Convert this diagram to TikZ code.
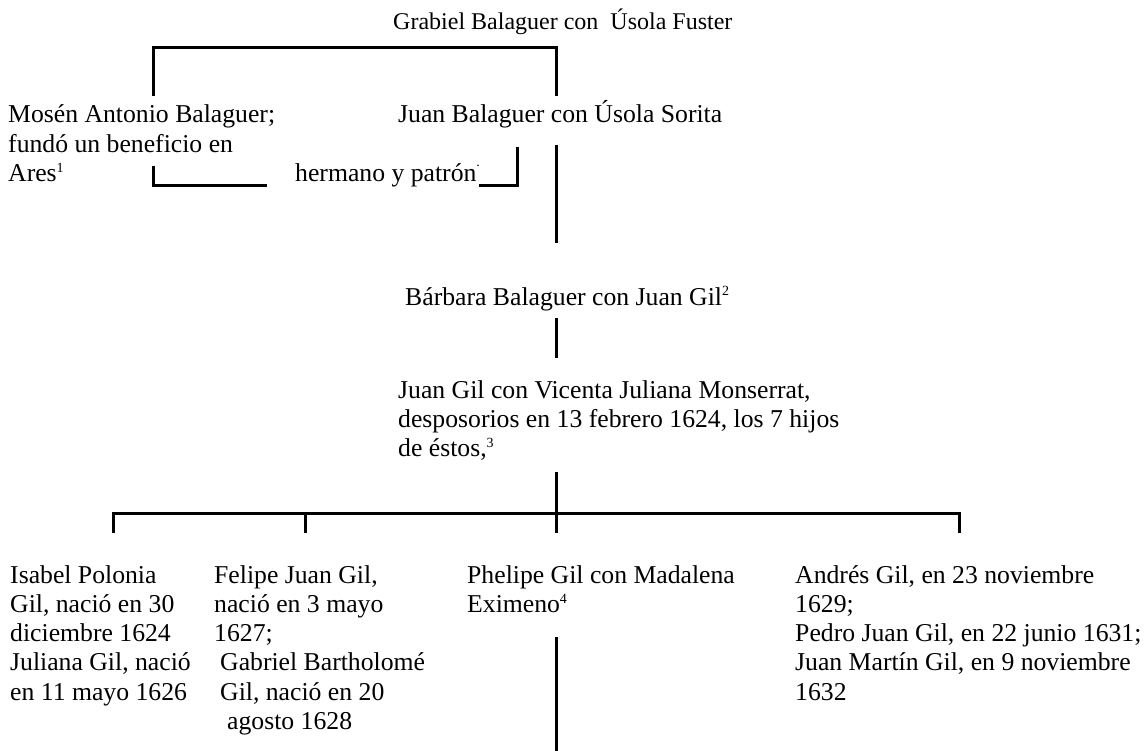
\documentclass[tikz,border=0pt]{standalone}
\usepackage{fontspec}
\setmainfont{Liberation Serif}
% raised footnote number
\newcommand\fnmark[1]{\raisebox{0.36em}{\fontsize{14}{14}\selectfont #1}}
\begin{document}
\begin{tikzpicture}[x=1pt,y=-1pt,
  txt/.style={inner sep=0pt, anchor=base west, font=\fontsize{25.7}{29.3}\selectfont},
  head/.style={inner sep=0pt, anchor=base west, font=\fontsize{24}{27.6}\selectfont},
  link/.style={line width=3pt}]
\useasboundingbox[fill=white] (0,0) rectangle (1147,751);

% ---- first generation
\node[head] (gb) at (393,30) {Grabiel Balaguer con \ Úsola Fuster};

\coordinate (tl) at (153,96);
\coordinate (tm) at (556,48);
\coordinate (tr) at (556,96);
\draw[link] (tl) |- (tm) -- (tr);

% ---- second generation
\node[txt] (m1) at (8,123)   {Mosén Antonio Balaguer;};
\node[txt] (m2) at (8,152.3) {fundó un beneficio en};
\node[txt] (m3) at (8,181.6) {Ares\fnmark{1}};
\node[txt] (jb) at (398,123) {Juan Balaguer con Úsola Sorita};
\node[txt] (hp) at (295,182) {hermano y patrón\raisebox{0.62em}{\fontsize{14}{14}\selectfont .}};

\coordinate (la) at (153,166);
\coordinate (lb) at (267,186);
\draw[link] (la) |- (lb);
\coordinate (ra) at (479,186);
\coordinate (rb) at (517,147);
\draw[link] (ra) -| (rb);

\coordinate (ja) at (556,145);
\coordinate (jz) at (556,243);
\draw[link] (ja) -- (jz);

% ---- third generation
\node[txt] (bb) at (405,305) {Bárbara Balaguer con Juan Gil\fnmark{2}};
\coordinate (ba) at (556,318);
\coordinate (bz) at (556,358);
\draw[link] (ba) -- (bz);

% ---- fourth generation
\node[txt] (g1) at (398,398)   {Juan Gil con Vicenta Juliana Monserrat,};
\node[txt] (g2) at (398,427.3) {desposorios en 13 febrero 1624, los 7 hijos};
\node[txt] (g3) at (398,456.6) {de éstos,\fnmark{3}};

\coordinate (ga) at (556,472);
\coordinate (h4) at (959,513);
\draw[link] (ga) -- (556,533);
\draw[link] (113,533) |- (h4) -- (959,533);
\draw[link] (305,513) -- (305,533);

% ---- children
\node[txt] (i1) at (10,583)   {Isabel Polonia};
\node[txt] (i2) at (10,612.3) {Gil, nació en 30};
\node[txt] (i3) at (10,641.6) {diciembre 1624};
\node[txt] (i4) at (10,670.9) {Juliana Gil, nació};
\node[txt] (i5) at (10,700.2) {en 11 mayo 1626};

\node[txt] (f1) at (214,583)   {Felipe Juan Gil,};
\node[txt] (f2) at (214,612.3) {nació en 3 mayo};
\node[txt] (f3) at (214,641.6) {1627;};
\node[txt] (f4) at (220,670.9) {Gabriel Bartholomé};
\node[txt] (f5) at (220,700.2) {Gil, nació en 20};
\node[txt] (f6) at (227,729.5) {agosto 1628};

\node[txt] (p1) at (467,583)   {Phelipe Gil con Madalena};
\node[txt] (p2) at (467,612.3) {Eximeno\fnmark{4}};
\coordinate (pa) at (556,637);
\coordinate (pz) at (556,751);
\draw[link] (pa) -- (pz);

\node[txt] (a1) at (795,583)   {Andrés Gil, en 23 noviembre};
\node[txt] (a2) at (795,612.3) {1629;};
\node[txt] (a3) at (795,641.6) {Pedro Juan Gil, en 22 junio 1631;};
\node[txt] (a4) at (795,670.9) {Juan Martín Gil, en 9 noviembre};
\node[txt] (a5) at (795,700.2) {1632};
\end{tikzpicture}
\end{document}
